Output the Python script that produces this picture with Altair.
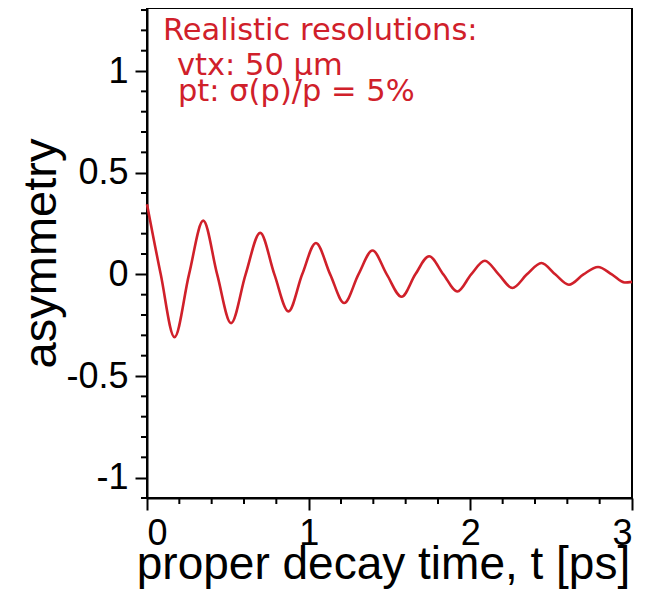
import altair as alt
import pandas as pd

# Curve: extrema and zero crossings
t_ps = [0.00, 0.085, 0.17, 0.26, 0.348, 0.434, 0.52, 0.61, 0.70, 0.788, 0.875,
        0.96, 1.045, 1.133, 1.22, 1.308, 1.395, 1.483, 1.575, 1.66, 1.745,
        1.833, 1.92, 2.005, 2.09, 2.175, 2.26, 2.35, 2.44, 2.525, 2.61, 2.70,
        2.79, 2.875, 2.955, 3.00]
asym = [0.345, 0.0, -0.309, 0.0, 0.264, 0.0, -0.240, 0.0, 0.204, 0.0, -0.182,
        0.0, 0.154, 0.0, -0.141, 0.0, 0.117, 0.0, -0.110, 0.0, 0.089,
        0.0, -0.084, 0.0, 0.067, 0.0, -0.067, 0.0, 0.056, 0.0, -0.051, 0.0,
        0.036, 0.0, -0.040, -0.037]

x_major = [0, 1, 2, 3]
x_minor = [0.2, 0.4, 0.6, 0.8, 1.2, 1.4, 1.6, 1.8, 2.2, 2.4, 2.6, 2.8]
y_major = [-1, -0.5, 0, 0.5, 1]
y_minor = [-1.1, -0.9, -0.8, -0.7, -0.6, -0.4, -0.3, -0.2, -0.1,
           0.1, 0.2, 0.3, 0.4, 0.6, 0.7, 0.8, 0.9, 1.1, 1.2, 1.3]

notes = ["Realistic resolutions:", "vtx: 50 \u00b5m", "pt: \u03c3(p)/p = 5%"]

RED = "#d0202a"
FONT = "Liberation Sans"

curve = pd.DataFrame({"t": t_ps, "a": asym})
xs = alt.Scale(domain=[0, 3], nice=False, zero=False)
ys = alt.Scale(domain=[-1.1, 1.31], nice=False, zero=False)

line = alt.Chart(curve).mark_line(color=RED, strokeWidth=2.6, interpolate="monotone").encode(
    x=alt.X("t:Q", scale=xs,
            axis=alt.Axis(values=x_major, title="proper decay time, t [ps]",
                          tickSize=12, labelPadding=6, labelFontSize=36,
                          titleFontSize=46, titleBaseline="alphabetic",
                          titleX=236, titleY=80, labelExpr="format(datum.value, '~g')")),
    y=alt.Y("a:Q", scale=ys,
            axis=alt.Axis(values=y_major, title="asymmetry",
                          tickSize=12, labelPadding=7, labelFontSize=36,
                          titleFontSize=47, titleBaseline="alphabetic",
                          titleX=-92, titleY=245, titleAngle=-90,
                          labelExpr="replace(format(datum.value, '~g'), '\u2212', '-')")),
)

xminor = alt.Chart(pd.DataFrame({"t": x_minor})).mark_rule(color="black", strokeWidth=2).encode(
    x=alt.X("t:Q"), y=alt.value(490), y2=alt.value(496))
yminor = alt.Chart(pd.DataFrame({"a": y_minor})).mark_rule(color="black", strokeWidth=2).encode(
    y=alt.Y("a:Q"), x=alt.value(-6), x2=alt.value(0))

note_x = [16, 30, 31]
note_y = [32, 67, 93]
texts = [
    alt.Chart(pd.DataFrame({"txt": [s]})).mark_text(
        color=RED, font="DejaVu Sans", fontSize=30.5, align="left", baseline="alphabetic"
    ).encode(text="txt:N", x=alt.value(px), y=alt.value(py))
    for s, px, py in zip(notes, note_x, note_y)
]

chart = alt.layer(line, xminor, yminor, *texts).properties(
    width=485, height=490,
    autosize=alt.AutoSizeParams(type="none"),
    padding={"left": 139, "top": 0, "right": 20, "bottom": 92},
).configure_view(stroke="black", strokeWidth=2).configure_axis(
    domainColor="black", domainWidth=2, tickColor="black", tickWidth=2,
    labelColor="black", titleColor="black", labelFont=FONT, titleFont=FONT,
    grid=False, titleFontWeight="normal",
)

chart.save("out.html", embed_options={"renderer": "svg", "actions": False})
